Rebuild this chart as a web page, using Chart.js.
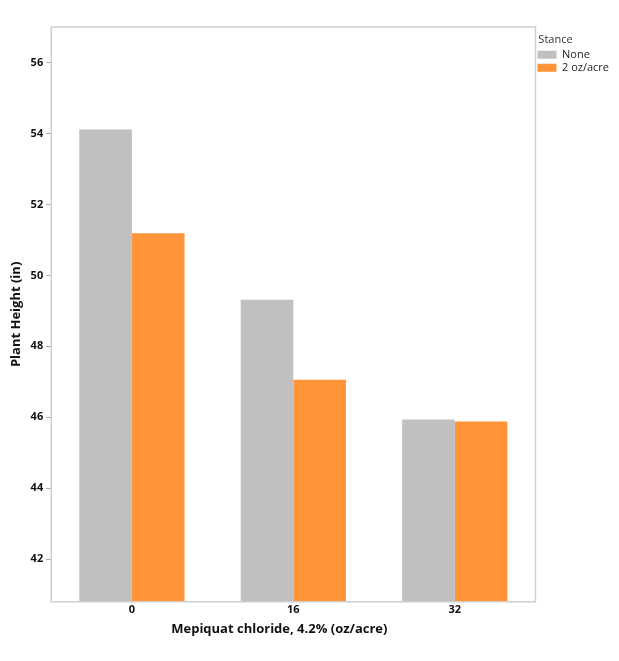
<!DOCTYPE html>
<html>
<head>
<meta charset="utf-8">
<script src="https://cdn.jsdelivr.net/npm/chart.js@4/dist/chart.umd.min.js"></script>
<style>
  body { margin: 0; background: #fff; }
  #wrap { width: 619px; height: 661px; }
</style>
</head>
<body>
<div id="wrap"><canvas id="chart" width="619" height="661"></canvas></div>
<script>
// categories and series
const doses = ['0', '16', '32'];
const noneHeights = [54.11, 49.31, 45.94];
const stanceHeights = [51.19, 47.06, 45.88];
const seriesNames = ['None', '2 oz/acre'];
const yTicks = [42, 44, 46, 48, 50, 52, 54, 56];
const xTitle = 'Mepiquat chloride, 4.2% (oz/acre)';

const FONT = '"Open Sans", "Noto Sans", sans-serif';

// light frame around the plot area + x title centred under the whole figure
const frame = {
    id: 'frame',
    afterDraw(chart) {
        const a = chart.chartArea;
        const ctx = chart.ctx;
        ctx.save();
        ctx.strokeStyle = '#d0d0d0';
        ctx.lineWidth = 1.5;
        ctx.strokeRect(a.left, a.top, a.right - a.left, a.bottom - a.top);
        ctx.fillStyle = '#111';
        ctx.font = 'bold 13px ' + FONT;
        ctx.textAlign = 'center';
        ctx.textBaseline = 'middle';
        ctx.fillText(xTitle, (a.left + a.right) / 2 - 14, a.bottom + 27);
        ctx.restore();
    }
};

new Chart(document.getElementById('chart'), {
    type: 'bar',
    data: {
        labels: doses,
        datasets: [
            { label: seriesNames[0], data: noneHeights, backgroundColor: '#c0c0c0' },
            { label: seriesNames[1], data: stanceHeights, backgroundColor: '#ff9438' }
        ]
    },
    options: {
        responsive: false,
        animation: false,
        devicePixelRatio: 1,
        layout: { padding: { top: 27, left: 8, right: 0, bottom: 44 } },
        datasets: { bar: { categoryPercentage: 0.652, barPercentage: 1.0 } },
        plugins: {
            tooltip: { enabled: false },
            legend: {
                position: 'right',
                align: 'start',
                title: {
                    display: true,
                    position: 'start',
                    text: ' Stance',
                    color: '#333',
                    font: { family: FONT, size: 11 },
                    padding: { top: 7, bottom: 0 }
                },
                labels: {
                    boxWidth: 19,
                    boxHeight: 8,
                    padding: 2,
                    color: '#222',
                    font: { family: FONT, size: 11 }
                }
            }
        },
        scales: {
            x: {
                grid: { display: false, tickLength: 0 },
                border: { color: '#d0d0d0' },
                ticks: { color: '#111', font: { family: FONT, size: 11, weight: 'bold' }, padding: 1 }
            },
            y: {
                min: 40.8,
                max: 57,
                afterBuildTicks: (axis) => { axis.ticks = yTicks.map(v => ({ value: v })); },
                grid: { drawOnChartArea: false, tickLength: 5, color: '#aaa' },
                border: { color: '#d0d0d0' },
                ticks: { color: '#111', font: { family: FONT, size: 11, weight: 'bold' }, padding: 3 },
                title: {
                    display: true,
                    text: 'Plant Height (in)',
                    color: '#111',
                    font: { family: FONT, size: 13, weight: 'bold' },
                    padding: { top: 0, bottom: 4 }
                }
            }
        }
    },
    plugins: [frame]
});
</script>
</body>
</html>
